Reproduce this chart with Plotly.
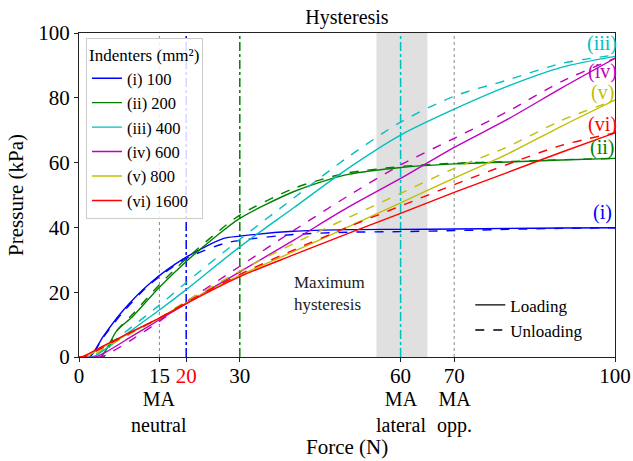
import plotly.graph_objects as go

# ---------------- data ----------------
names = ["(i) 100", "(ii) 200", "(iii) 400", "(iv) 600", "(v) 800", "(vi) 1600"]
short = ["(i)", "(ii)", "(iii)", "(iv)", "(v)", "(vi)"]
colors = ["#0000ff", "#008000", "#00bfbf", "#bf00bf", "#bfbf00", "#ff0000"]

# (i) 100
i_load_x = [0, 2, 4.5, 8.3, 13.2, 20, 27, 30, 40, 50, 60, 70, 80, 90, 100]
i_load_y = [0, 0, 6.3, 14.5, 22.7, 30.8, 36.6, 37.3, 38.8, 39.3, 39.4, 39.5, 39.7, 39.8, 39.9]
i_unl_x = [0, 2, 4.5, 8.3, 13.2, 20, 27, 30, 40, 50, 60, 70, 80, 90, 100]
i_unl_y = [0, 0, 6.0, 14.0, 22.4, 30.4, 35.0, 36.0, 37.8, 38.5, 38.7, 39.0, 39.4, 39.7, 39.9]

# (ii) 200
ii_load_x = [0, 4, 7, 10, 15, 20, 25, 30, 40, 47, 50, 60, 70, 80, 90, 100]
ii_load_y = [0, 0, 8, 12.5, 21.5, 29.5, 36.5, 42.8, 51, 55, 56.3, 58.5, 59.6, 60.2, 60.8, 61.3]
ii_unl_x = [0, 4.5, 7, 10, 15, 20, 25, 30, 40, 47, 50, 60, 70, 80, 90, 100]
ii_unl_y = [0, 0, 8, 13.2, 22.3, 30.3, 37.4, 43.8, 52, 55.6, 56.8, 58.8, 59.8, 60.3, 60.9, 61.3]

# (iii) 400
iii_load_x = [0, 2.5, 5, 10, 15, 20, 30, 40, 50, 60, 70, 80, 90, 100]
iii_load_y = [0, 0, 2.5, 8.5, 14.5, 20.8, 34, 46, 58, 68.5, 76.5, 83.6, 89.4, 92.8]
iii_unl_x = [0, 2.5, 5, 10, 15, 20, 30, 40, 50, 60, 70, 80, 90, 100]
iii_unl_y = [0, 0, 3, 9.5, 16, 23, 36.3, 49, 61.5, 72.5, 80.5, 85.5, 90.6, 93.2]

# (iv) 600
iv_load_x = [0, 3, 5, 10, 15, 20, 30, 40, 50, 60, 70, 80, 90, 100]
iv_load_y = [0, 0, 1.5, 6.5, 11.5, 16.5, 26.3, 36, 46, 55.1, 64.7, 73.4, 83, 92.2]
iv_unl_x = [0, 4, 6, 10, 15, 20, 30, 40, 50, 60, 70, 80, 90, 100]
iv_unl_y = [0, 0, 1.5, 5.5, 11, 17, 28, 39, 49.5, 59.3, 67.5, 75.8, 85, 92.2]

# (v) 800
v_load_x = [0, 1, 5, 10, 15, 20, 30, 40, 50, 60, 70, 80, 90, 100]
v_load_y = [0, 0, 3.5, 7.8, 12, 16.7, 25.2, 32.5, 40, 47.6, 55.2, 62.7, 71.2, 79.3]
v_unl_x = [0, 2, 5, 10, 15, 20, 30, 40, 50, 60, 70, 80, 90, 100]
v_unl_y = [0, 0, 3, 7.5, 12, 17.2, 26.5, 35, 42.8, 50.5, 58.2, 64.9, 73, 79.3]

# (vi) 1600
vi_load_x = [0, 0.5, 5, 10, 15, 20, 30, 40, 50, 60, 70, 80, 90, 100]
vi_load_y = [0, 0, 3.8, 8, 12, 16.5, 24.8, 31.5, 38, 44.3, 50.8, 57, 63.2, 69.2]
vi_unl_x = [0, 1, 5, 10, 15, 20, 30, 40, 50, 60, 70, 80, 90, 100]
vi_unl_y = [0, 0, 3.5, 7.8, 12, 16.8, 25.5, 33, 40, 46.6, 53.2, 59.5, 65.3, 69.2]

loads = [(i_load_x, i_load_y), (ii_load_x, ii_load_y), (iii_load_x, iii_load_y),
         (iv_load_x, iv_load_y), (v_load_x, v_load_y), (vi_load_x, vi_load_y)]
unloads = [(i_unl_x, i_unl_y), (ii_unl_x, ii_unl_y), (iii_unl_x, iii_unl_y),
           (iv_unl_x, iv_unl_y), (v_unl_x, v_unl_y), (vi_unl_x, vi_unl_y)]

# right-end label heights (kPa)
label_y = [44.5, 64.8, 96.9, 88, 81.5, 71.9]

tick_vals = [0, 15, 20, 30, 60, 70, 100]
tick_text = ["0", "15", "<span style='color:#ff0000'>20</span>", "30", "60", "70", "100"]
ma_x = [15, 60, 70]
ma_text = ["MA<br>neutral", "MA<br>lateral", "MA<br>opp."]

vlines = [(15, "#888888", "dot"), (20, "#0000ff", "dashdot"), (30, "#008000", "dashdot"),
          (60, "#00bfbf", "dashdot"), (70, "#888888", "dot")]
band = (55.5, 65)

FONT = "Liberation Serif"

fig = go.Figure()

# shaded band and vertical lines
fig.add_vrect(x0=band[0], x1=band[1], fillcolor="#e0e0e0", opacity=1, line_width=0, layer="below")
for xv, c, d in vlines:
    fig.add_shape(type="line", x0=xv, x1=xv, y0=0, y1=100, xref="x", yref="y",
                  line=dict(color=c, dash=d, width=1.5 if d == "dashdot" else 1), layer="below")

for k in range(6):
    lx, ly = loads[k]
    ux, uy = unloads[k]
    fig.add_trace(go.Scatter(x=lx, y=ly, mode="lines", name=names[k], legendgroup="g%d" % k,
                             line=dict(color=colors[k], width=1.4, shape="spline", smoothing=0.8),
                             legend="legend"))
    fig.add_trace(go.Scatter(x=ux, y=uy, mode="lines", name=names[k] + " unloading",
                             line=dict(color=colors[k], width=1.4, dash="dash", shape="spline", smoothing=0.8),
                             showlegend=False))
    fig.add_annotation(x=97.6, y=label_y[k], text=short[k], showarrow=False,
                       font=dict(family=FONT, size=20, color=colors[k]),
                       xanchor="center", yanchor="middle")

# style legend
fig.add_trace(go.Scatter(x=[None], y=[None], mode="lines", name="Loading", legendgroup="s1",
                         line=dict(color="black", width=1.4), legend="legend2"))
fig.add_trace(go.Scatter(x=[None], y=[None], mode="lines", name="Unloading", legendgroup="s2",
                         line=dict(color="black", width=1.4, dash="dash"), legend="legend2"))

fig.add_annotation(x=39.8, y=19.6, text="Maximum<br>hysteresis", showarrow=False, align="left",
                   xanchor="left", yanchor="middle", font=dict(family=FONT, size=17, color="#222"))

# MA labels under ticks
for xv, t in zip(ma_x, ma_text):
    fig.add_annotation(x=xv, y=0, xref="x", yref="y", text=t, showarrow=False,
                       xanchor="center", yanchor="middle", yshift=-55, borderpad=0,
                       font=dict(family=FONT, size=20, color="black"))

# x axis title
fig.add_annotation(x=0.5, y=0, xref="paper", yref="paper", text="Force (N)", showarrow=False,
                   xanchor="center", yanchor="middle", yshift=-90,
                   font=dict(family=FONT, size=21, color="black"))

fig.update_layout(
    width=633, height=461,
    margin=dict(l=79, r=18, t=33, b=104, autoexpand=False),
    paper_bgcolor="white", plot_bgcolor="white",
    font=dict(family=FONT, size=20, color="black"),
    title=dict(text="Hysteresis", x=0.5, xref="paper", xanchor="center", y=0.963, yanchor="middle",
               font=dict(family=FONT, size=20)),
    xaxis=dict(range=[0, 100], tickmode="array", tickvals=tick_vals, ticktext=tick_text,
               tickangle=0, automargin=False, ticklabelstandoff=-4,
               showgrid=False, zeroline=False, showline=True, linecolor="#222", linewidth=1,
               mirror=True, ticks="outside", ticklen=4, tickcolor="#222",
               tickfont=dict(family=FONT, size=21)),
    yaxis=dict(range=[0, 100], tickvals=[0, 20, 40, 60, 80, 100], automargin=False,
               showgrid=False, zeroline=False, showline=True, linecolor="#222", linewidth=1,
               mirror=True, ticks="outside", ticklen=4, tickcolor="#222",
               title=dict(text="Pressure (kPa)", font=dict(family=FONT, size=21), standoff=8),
               tickfont=dict(family=FONT, size=21)),
    legend=dict(x=0.013, y=0.985, xanchor="left", yanchor="top",
                bgcolor="rgba(255,255,255,0.85)", bordercolor="#cccccc", borderwidth=1,
                title=dict(text="Indenters (mm²)", font=dict(family=FONT, size=17)),
                font=dict(family=FONT, size=16.5), tracegroupgap=0, itemwidth=30),
    legend2=dict(x=0.73, y=0.215, xanchor="left", yanchor="top", bgcolor="rgba(0,0,0,0)",
                 borderwidth=0, font=dict(family=FONT, size=17), itemwidth=30, tracegroupgap=0),
    showlegend=True,
)

fig.write_html("out.html")
